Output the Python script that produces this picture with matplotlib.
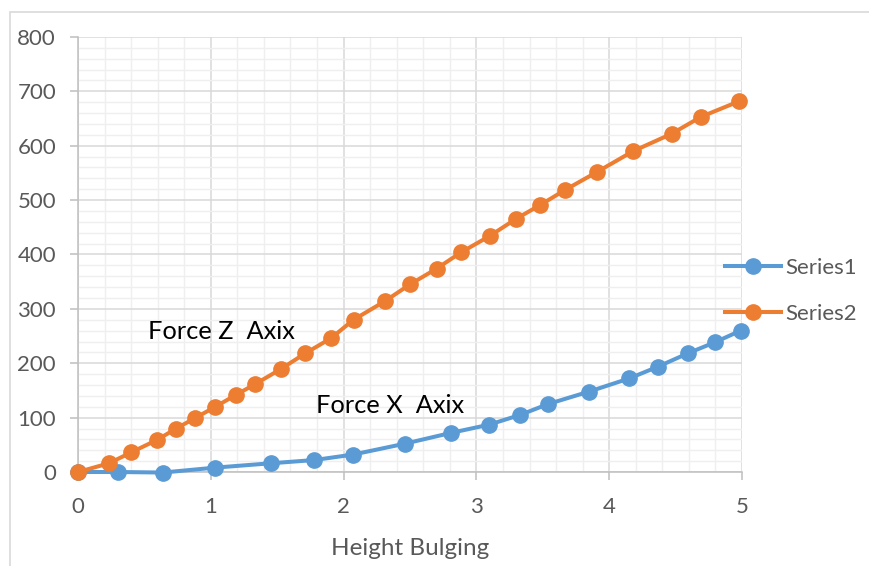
import matplotlib
matplotlib.use("Agg")
import matplotlib.pyplot as plt
from matplotlib.ticker import MultipleLocator
from matplotlib.patches import Rectangle

plt.rcParams['font.family'] = ['Lato', 'DejaVu Sans']

# Series1 (Force X)
x1 = [0, 0.30, 0.64, 1.03, 1.45, 1.78, 2.07, 2.46, 2.81, 3.095, 3.33, 3.54, 3.85, 4.15, 4.37, 4.59, 4.80, 4.99]
y1 = [0, 0, -1, 8, 16, 22, 32, 52, 72, 87, 105, 125, 148, 172, 194, 218, 239, 260]

# Series2 (Force Z)
x2 = [0, 0.233, 0.40, 0.595, 0.74, 0.88, 1.035, 1.19, 1.33, 1.525, 1.71, 1.905, 2.075, 2.31, 2.50, 2.70, 2.885,
      3.10, 3.295, 3.48, 3.67, 3.91, 4.18, 4.47, 4.69, 4.98]
y2 = [0, 16, 36, 59, 80, 99, 120, 142, 161, 189, 218, 246, 280, 314, 345, 374, 404,
      434, 465, 491, 519, 552, 590, 622, 653, 682]

series_names = ['Series1', 'Series2']
xlabel = 'Height Bulging'
annotations = [('Force Z  Axix', 0.53, 259), ('Force X  Axix', 1.79, 123)]

blue = '#5B9BD5'
orange = '#ED7D31'
gray_text = '#595959'

fig = plt.figure(figsize=(8.69, 5.66), dpi=100)
ax = fig.add_axes([78/869, 1-472/566, (742-78)/869, (472-37)/566])

# outer chart border
fig.patches.append(Rectangle((10/869, -0.05), 1.2, 1-12/566+0.05, transform=fig.transFigure,
                             fill=False, edgecolor='#D9D9D9', linewidth=1.2, zorder=0))

ax.plot(x1, y1, color=blue, lw=2.9, marker='o', ms=11, label=series_names[0], zorder=3, clip_on=False)
ax.plot(x2, y2, color=orange, lw=2.9, marker='o', ms=11, label=series_names[1], zorder=4, clip_on=False)

ax.set_xlim(0, 5)
ax.set_ylim(0, 800)
ax.xaxis.set_major_locator(MultipleLocator(1))
ax.xaxis.set_minor_locator(MultipleLocator(0.2))
ax.yaxis.set_major_locator(MultipleLocator(100))
ax.yaxis.set_minor_locator(MultipleLocator(20))

ax.grid(which='major', color='#D9D9D9', lw=1.1)
ax.grid(which='minor', color='#EFEFEF', lw=1.0)
ax.set_axisbelow(True)

for s in ['top', 'right']:
    ax.spines[s].set_visible(False)
for s in ['left', 'bottom']:
    ax.spines[s].set_color('#BFBFBF')
    ax.spines[s].set_linewidth(1.1)

ax.tick_params(which='major', length=5.8, color='#BFBFBF', width=1.1, labelcolor=gray_text, labelsize=16)
ax.tick_params(which='minor', length=0)
ax.tick_params(axis='x', pad=12)
ax.tick_params(axis='y', pad=10)

ax.set_xlabel(xlabel, color=gray_text, fontsize=17.5, labelpad=15)

for txt, tx, ty in annotations:
    ax.text(tx, ty, txt, fontsize=18.3, color='black', va='center', ha='left')

leg = ax.legend(loc='center left', bbox_to_anchor=(725/869, 1-291/566), bbox_transform=fig.transFigure,
                frameon=False, fontsize=16, handlelength=2.5, handletextpad=0.2, labelspacing=1.15,
                borderpad=0, borderaxespad=0, labelcolor=gray_text)

fig.savefig('out.png', dpi=100)
